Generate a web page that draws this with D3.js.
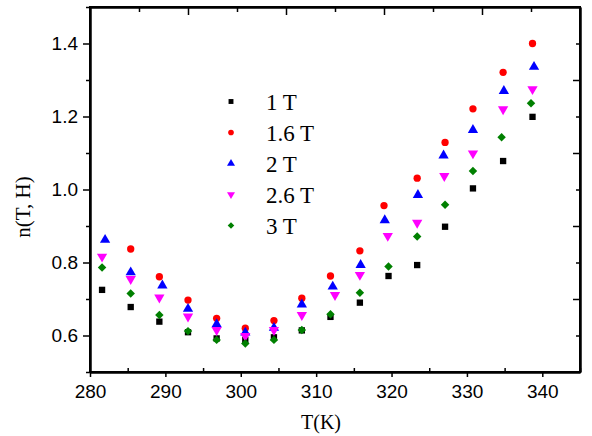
<!DOCTYPE html>
<html>
<head>
<meta charset="utf-8">
<script src="https://cdn.jsdelivr.net/npm/d3@7"></script>
<style>
  html, body { margin: 0; padding: 0; background: #fff; }
  svg { display: block; }
  .tick text { font-family: "Liberation Sans", Arial, sans-serif; font-size: 19px; fill: #000; }
</style>
</head>
<body>
<svg id="chart" width="592" height="436"></svg>
<script>
// Field-dependent n(T, H) versus temperature
const labels = ["1 T", "1.6 T", "2 T", "2.6 T", "3 T"];
const colors = ["#000000", "#ff0000", "#0000ff", "#ff00ff", "#008000"];

const temp1T  = [281.6, 285.4, 289.2, 293.0, 296.8, 300.6, 304.4, 308.1, 311.9, 315.8, 319.6, 323.4, 327.1, 330.8, 334.8, 338.7];
const n1T     = [0.725, 0.678, 0.638, 0.609, 0.592, 0.588, 0.595, 0.614, 0.651, 0.690, 0.763, 0.793, 0.898, 1.003, 1.078, 1.199];

const temp16T = [285.4, 289.2, 293.0, 296.8, 300.6, 304.4, 308.1, 311.9, 315.8, 319.0, 323.4, 327.1, 330.8, 334.8, 338.7];
const n16T    = [0.837, 0.761, 0.697, 0.647, 0.620, 0.641, 0.702, 0.763, 0.832, 0.956, 1.031, 1.129, 1.221, 1.321, 1.400];

const temp2T  = [282.0, 285.4, 289.6, 293.0, 296.8, 300.6, 304.4, 308.1, 312.2, 315.9, 319.1, 323.5, 326.9, 330.8, 334.9, 338.9];
const n2T     = [0.862, 0.773, 0.737, 0.673, 0.631, 0.608, 0.621, 0.685, 0.734, 0.793, 0.916, 0.985, 1.093, 1.163, 1.270, 1.336];

const temp26T = [281.6, 285.4, 289.2, 293.0, 296.8, 300.6, 304.4, 308.1, 312.5, 315.8, 319.5, 323.4, 327.0, 330.8, 334.8, 338.7];
const n26T    = [0.816, 0.755, 0.704, 0.652, 0.615, 0.599, 0.615, 0.656, 0.711, 0.766, 0.873, 0.909, 1.037, 1.099, 1.220, 1.275];

const temp3T  = [281.6, 285.4, 289.2, 293.0, 296.8, 300.6, 304.4, 308.1, 311.9, 315.8, 319.6, 323.4, 327.1, 330.8, 334.6, 338.5];
const n3T     = [0.786, 0.715, 0.656, 0.612, 0.588, 0.578, 0.588, 0.615, 0.658, 0.717, 0.789, 0.871, 0.958, 1.051, 1.143, 1.236];

const xTicks = [280, 290, 300, 310, 320, 330, 340];
const xMinor = [285, 295, 305, 315, 325, 335, 345];
const yTicks = [0.6, 0.8, 1.0, 1.2, 1.4];
const yMinor = [0.5, 0.7, 0.9, 1.1, 1.3, 1.5];

const temps = [temp1T, temp16T, temp2T, temp26T, temp3T];
const values = [n1T, n16T, n2T, n26T, n3T];

const series = labels.map((label, i) => ({
  label,
  color: colors[i],
  points: temps[i].map((t, j) => ({ t, v: values[i][j] }))
}));

const svg = d3.select("#chart");
const mLeft = 90, mRight = 580, mTop = 7, mBottom = 372;

const x = d3.scaleLinear().domain([280, 345]).range([mLeft, mRight]);
const y = d3.scaleLinear().domain([0.5, 1.5]).range([mBottom, mTop]);
// Secondary scale for the mirrored top frame ticks
const xTop = d3.scaleLinear().domain([0, 5]).range([mLeft, mRight]);

// Marker shapes: square, circle, up triangle, down triangle, diamond
const shapes = [
  { type: d3.symbolSquare, rot: 0, size: 40 },
  { type: d3.symbolCircle, rot: 0, size: 42 },
  { type: d3.symbolTriangle, rot: 0, size: 46 },
  { type: d3.symbolTriangle, rot: 180, size: 46 },
  { type: d3.symbolSquare, rot: 45, size: 36 }
];

const axisStroke = 2;

// bottom axis
const gx = svg.append("g").attr("transform", `translate(0,${mBottom})`);
gx.call(d3.axisBottom(x).tickValues(xTicks).tickSizeInner(5).tickSizeOuter(0).tickPadding(8).tickFormat(d3.format("d")));
gx.append("g").call(d3.axisBottom(x).tickValues(xMinor).tickSizeInner(-4).tickSizeOuter(0).tickFormat(""));

// left axis
const gy = svg.append("g").attr("transform", `translate(${mLeft},0)`);
gy.call(d3.axisLeft(y).tickValues(yTicks).tickSizeInner(7).tickSizeOuter(0).tickPadding(5).tickFormat(d3.format(".1f")));
gy.append("g").call(d3.axisLeft(y).tickValues(yMinor).tickSizeInner(4).tickSizeOuter(0).tickFormat(""));

// top frame ticks
const gt = svg.append("g").attr("transform", `translate(0,${mTop})`);
gt.call(d3.axisTop(xTop).tickValues([1, 2, 3, 4]).tickSizeInner(-8).tickSizeOuter(0).tickFormat(""));
gt.append("g").call(d3.axisTop(xTop).tickValues([0.5, 1.5, 2.5, 3.5, 4.5]).tickSizeInner(-5).tickSizeOuter(0).tickFormat(""));

// right frame ticks
const gr = svg.append("g").attr("transform", `translate(${mRight},0)`);
gr.call(d3.axisRight(y).tickValues([0.7, 0.9, 1.1, 1.3]).tickSizeInner(-7).tickSizeOuter(0).tickFormat(""));
gr.append("g").call(d3.axisRight(y).tickValues([0.6, 0.8, 1.0, 1.2, 1.4]).tickSizeInner(-4).tickSizeOuter(0).tickFormat(""));

svg.selectAll(".domain").attr("stroke", "#000").attr("stroke-width", axisStroke);
svg.selectAll(".tick line").attr("stroke", "#000").attr("stroke-width", 1.5);

// full frame outline
svg.append("rect")
  .attr("x", mLeft).attr("y", mTop)
  .attr("width", mRight - mLeft).attr("height", mBottom - mTop)
  .attr("fill", "none").attr("stroke", "#000").attr("stroke-width", axisStroke);

// Data markers
const plot = svg.append("g");
series.forEach((s, i) => {
  const sh = shapes[i];
  const sym = d3.symbol().type(sh.type).size(sh.size);
  plot.append("g").selectAll("path")
    .data(s.points)
    .join("path")
    .attr("d", sym)
    .attr("transform", d => `translate(${x(d.t)},${y(d.v)}) rotate(${sh.rot})`)
    .attr("fill", s.color);
});

// Legend
const legend = svg.append("g");
const legX = 231, legY0 = 101.5, legDy = 31;
series.forEach((s, i) => {
  const sh = shapes[i];
  const sym = d3.symbol().type(sh.type).size(sh.size * 0.6);
  legend.append("path")
    .attr("d", sym)
    .attr("transform", `translate(${legX},${legY0 + i * legDy}) rotate(${sh.rot})`)
    .attr("fill", s.color);
  legend.append("text")
    .attr("x", 266)
    .attr("y", legY0 + i * legDy + 8)
    .attr("font-family", "'Liberation Serif', 'Times New Roman', serif")
    .attr("font-size", 23)
    .attr("fill", "#000")
    .text(s.label);
});

// Axis titles
svg.append("text")
  .attr("x", 321).attr("y", 429)
  .attr("text-anchor", "middle")
  .attr("font-family", "'Liberation Serif', 'Times New Roman', serif")
  .attr("font-size", 20)
  .text("T(K)");

svg.append("text")
  .attr("transform", "translate(30,207) rotate(-90)")
  .attr("text-anchor", "middle")
  .attr("font-family", "'Liberation Serif', 'Times New Roman', serif")
  .attr("font-size", 21)
  .text("n(T, H)");
</script>
</body>
</html>
